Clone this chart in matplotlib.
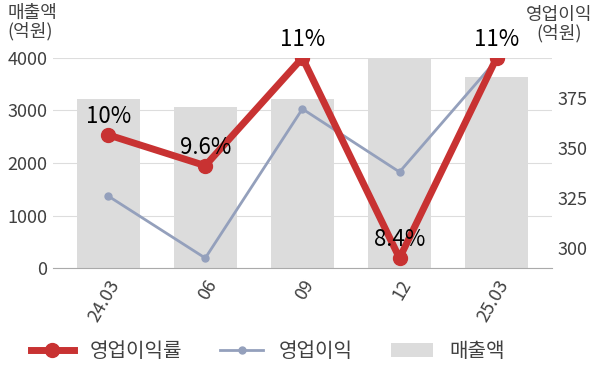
import matplotlib
matplotlib.use("Agg")
import matplotlib.pyplot as plt
from matplotlib.lines import Line2D
from matplotlib.patches import Patch

plt.rcParams['font.family'] = ['Noto Sans CJK KR', 'DejaVu Sans']

categories = ["24.03", "06", "09", "12", "25.03"]
revenue = [3220, 3070, 3220, 4000, 3640]          # 매출액 (억원)
op_profit = [326, 295, 369.5, 338, 394]           # 영업이익 (억원)
op_margin = [10, 9.6, 11, 8.4, 11]                # 영업이익률 (%)
margin_labels = ["10%", "9.6%", "11%", "8.4%", "11%"]

RED = "#c83232"
BLUE = "#94a0bc"
BAR = "#dcdcdc"
TXT = "#404040"

fig = plt.figure(figsize=(6, 3.83), dpi=100)
ax = fig.add_axes([0.088, 0.300, 0.832, 0.549])
x = list(range(len(categories)))

ax.bar(x, revenue, width=0.65, color=BAR, zorder=1)
ax.set_ylim(0, 4000)
ax.set_yticks([0, 1000, 2000, 3000, 4000])
ax.set_xlim(-0.57, 4.57)
ax.set_xticks(x)
ax.set_xticklabels(categories, rotation=60, ha='right', rotation_mode='anchor')
ax.grid(axis='y', color='#dddddd', linewidth=0.8, zorder=0)
ax.set_axisbelow(True)
for s in ['top', 'right', 'left']:
    ax.spines[s].set_visible(False)
ax.spines['bottom'].set_color('#aaaaaa')
ax.tick_params(axis='both', length=0, labelsize=13, colors=TXT, pad=4)
ax.tick_params(axis='x', pad=6)

ax2 = ax.twinx()
ax2.plot(x, op_profit, color=BLUE, linewidth=2, marker='o', markersize=5, zorder=3)
ax2.set_ylim(290, 395)
ax2.set_yticks([300, 325, 350, 375])
for s in ax2.spines.values():
    s.set_visible(False)
ax2.tick_params(axis='y', length=0, labelsize=13, colors=TXT, pad=4)

ax3 = ax.twinx()
ax3.plot(x, op_margin, color=RED, linewidth=5, marker='o', markersize=10, zorder=4)
ax3.set_ylim(8.27, 11.0)
ax3.axis('off')
for xi, v, lab in zip(x, op_margin, margin_labels):
    ax3.annotate(lab, (xi, v), xytext=(0, 5), textcoords='offset points',
                 ha='center', va='bottom', fontsize=16, color='black', zorder=6)

fig.text(0.013, 0.99, "매출액\n(억원)", ha='left', va='top', fontsize=13,
         color=TXT, linespacing=1.0)
fig.text(0.932, 0.985, "영업이익\n(억원)", ha='center', va='top', fontsize=13,
         color=TXT, linespacing=1.0)

handles = [
    Line2D([0], [0], color=RED, linewidth=5, marker='o', markersize=10),
    Line2D([0], [0], color=BLUE, linewidth=2, marker='o', markersize=5),
    Patch(facecolor=BAR, edgecolor='none'),
]
labels = ["영업이익률", "영업이익", "매출액"]
fig.legend(handles, labels, loc='center', bbox_to_anchor=(0.447, 0.083), ncol=3,
           frameon=False, fontsize=14.5, handlelength=2.1, handletextpad=0.8,
           columnspacing=1.9, labelcolor=TXT)

fig.savefig("out.png", dpi=100)
